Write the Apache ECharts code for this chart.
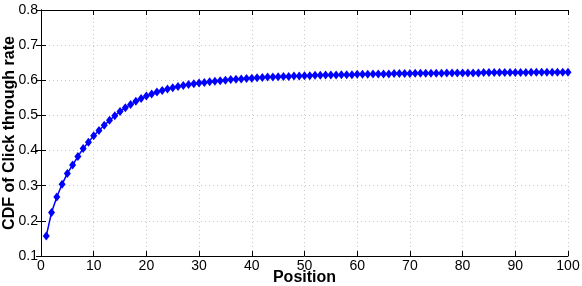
<!DOCTYPE html>
<html>
<head>
<meta charset="utf-8">
<script src="https://cdn.jsdelivr.net/npm/echarts@6/dist/echarts.min.js"></script>
<style>
  html, body { margin: 0; padding: 0; background: #fff; }
  #chart { width: 582px; height: 286px; }
</style>
</head>
<body>
<div id="chart"></div>
<script>
var chartDom = document.getElementById('chart');
var myChart = echarts.init(chartDom);

// position 1..100 and the CDF value
var positions = [];
for (var i = 1; i <= 100; i++) positions.push(i);

var cdfValues = [
  0.157, 0.224, 0.268, 0.304, 0.335, 0.359, 0.383, 0.406, 0.424, 0.442,
  0.457, 0.472, 0.486, 0.499, 0.511, 0.522, 0.531, 0.540, 0.548, 0.555,
  0.561, 0.567, 0.571, 0.575, 0.579, 0.582, 0.585, 0.588, 0.590, 0.592,
  0.594, 0.596, 0.597, 0.599, 0.600, 0.602, 0.603, 0.604, 0.605, 0.606,
  0.607, 0.608, 0.609, 0.609, 0.610, 0.611, 0.611, 0.612, 0.612, 0.613,
  0.613, 0.614, 0.614, 0.615, 0.615, 0.615, 0.616, 0.616, 0.616, 0.617,
  0.617, 0.617, 0.618, 0.618, 0.618, 0.618, 0.619, 0.619, 0.619, 0.619,
  0.620, 0.620, 0.620, 0.620, 0.620, 0.620, 0.621, 0.621, 0.621, 0.621,
  0.621, 0.621, 0.621, 0.622, 0.622, 0.622, 0.622, 0.622, 0.622, 0.622,
  0.622, 0.622, 0.623, 0.623, 0.623, 0.623, 0.623, 0.623, 0.623, 0.623
];

var xTicks = [0, 10, 20, 30, 40, 50, 60, 70, 80, 90, 100];
var yTicks = [0.1, 0.2, 0.3, 0.4, 0.5, 0.6, 0.7, 0.8];

var seriesData = positions.map(function (p, i) { return [p, cdfValues[i]]; });

var font = 'Liberation Sans, Arial, Helvetica, sans-serif';
var lineStyleAxis = { color: '#000', width: 1 };
var gridLine = { show: true, lineStyle: { color: '#c8c8c8', type: [1, 3], width: 1 } };

var option = {
    animation: false,
    grid: { left: 41, right: 14, top: 10, bottom: 30, outerBoundsMode: 'none', containLabel: false },
    xAxis: [{
        type: 'value',
        min: xTicks[0],
        max: xTicks[xTicks.length - 1],
        interval: 10,
        name: 'Position',
        nameLocation: 'middle',
        nameGap: 14,
        nameMoveOverlap: false,
        nameTextStyle: { fontFamily: font, fontSize: 16, fontWeight: 'bold', color: '#000' },
        axisLine: { lineStyle: lineStyleAxis },
        axisTick: { inside: true, length: 5, lineStyle: lineStyleAxis },
        axisLabel: { fontFamily: font, fontSize: 14, color: '#000', margin: 3 },
        splitLine: gridLine
    }, {
        type: 'value',
        position: 'top',
        min: xTicks[0],
        max: xTicks[xTicks.length - 1],
        interval: 10,
        axisLine: { show: true, lineStyle: lineStyleAxis },
        axisTick: { inside: true, length: 5, lineStyle: lineStyleAxis },
        axisLabel: { show: false },
        splitLine: { show: false }
    }],
    yAxis: [{
        type: 'value',
        min: yTicks[0],
        max: yTicks[yTicks.length - 1],
        interval: 0.1,
        name: 'CDF of Click through rate',
        nameLocation: 'middle',
        nameGap: 23,
        nameMoveOverlap: false,
        nameTextStyle: { fontFamily: font, fontSize: 16, fontWeight: 'bold', color: '#000' },
        axisLine: { show: true, lineStyle: lineStyleAxis },
        axisTick: { inside: true, length: 5, lineStyle: lineStyleAxis },
        axisLabel: {
            fontFamily: font, fontSize: 14, color: '#000', margin: 3,
            formatter: function (v) { return v.toFixed(1); }
        },
        splitLine: gridLine
    }, {
        type: 'value',
        position: 'right',
        min: yTicks[0],
        max: yTicks[yTicks.length - 1],
        interval: 0.1,
        axisLine: { show: true, lineStyle: lineStyleAxis },
        axisTick: { inside: true, length: 5, lineStyle: lineStyleAxis },
        axisLabel: { show: false },
        splitLine: { show: false }
    }],
    series: [{
        type: 'line',
        data: seriesData,
        symbol: 'diamond',
        symbolSize: [7, 9],
        lineStyle: { color: '#0000ff', width: 1.5 },
        itemStyle: { color: '#0000ff' }
    }]
};
myChart.setOption(option);
</script>
</body>
</html>
